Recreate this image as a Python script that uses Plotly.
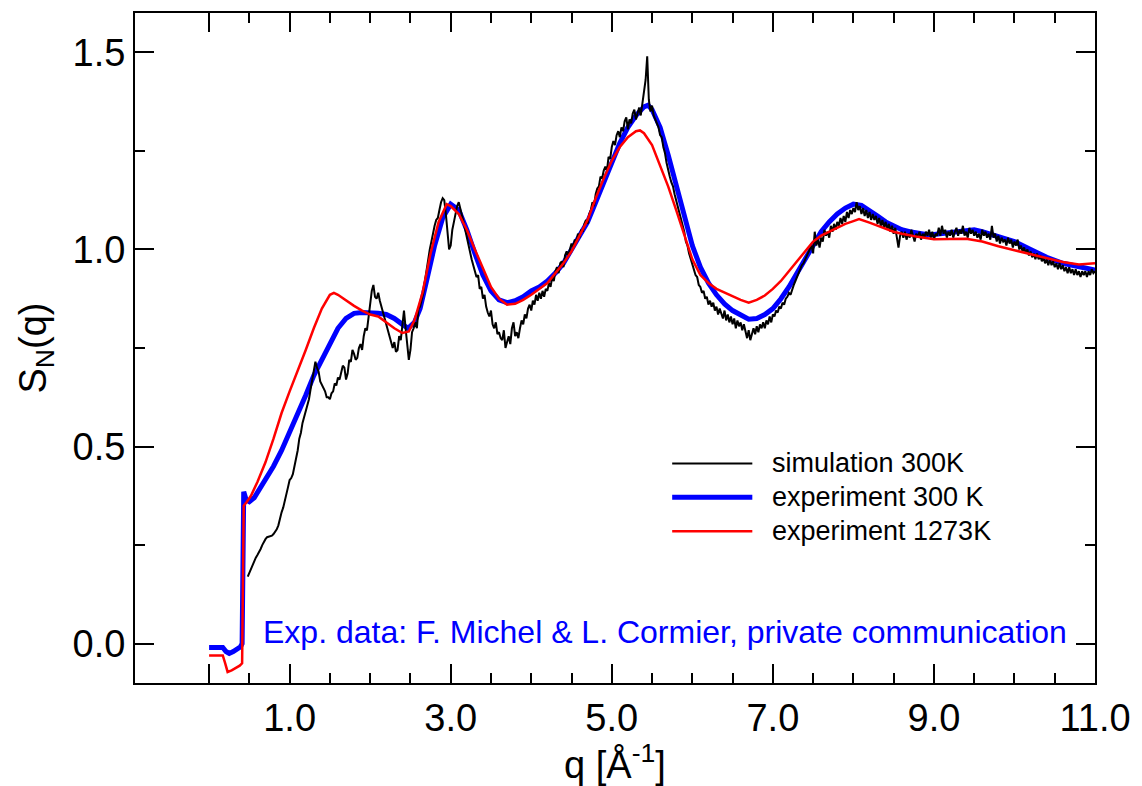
import numpy as np
import plotly.graph_objects as go

# ---- simulation 300K (uniform q grid, step 0.02 from 0.48 to 11.00) ----
q_sim_start, q_sim_step = 0.48, 0.02
s_sim = [
    0.17, 0.18, 0.19, 0.20, 0.21, 0.218, 0.225, 0.232, 0.24, 0.25,            # 0.48
    0.26, 0.265, 0.27, 0.271, 0.272, 0.274, 0.278, 0.283, 0.29, 0.30,         # 0.68
    0.32, 0.333, 0.345, 0.36, 0.38, 0.397, 0.415, 0.42, 0.43, 0.45,           # 0.88
    0.47, 0.49, 0.52, 0.535, 0.56, 0.575, 0.59, 0.605, 0.62, 0.645,           # 1.08
    0.67, 0.69, 0.715, 0.70, 0.69, 0.665, 0.655, 0.645, 0.64, 0.625,          # 1.28
    0.625, 0.62, 0.635, 0.64, 0.66, 0.655, 0.675, 0.67, 0.69, 0.705,          # 1.48
    0.70, 0.67, 0.685, 0.72, 0.715, 0.745, 0.735, 0.72, 0.725, 0.75,          # 1.68
    0.76, 0.745, 0.78, 0.80, 0.795, 0.83, 0.86, 0.895, 0.91, 0.88,            # 1.88
    0.875, 0.89, 0.87, 0.855, 0.84, 0.83, 0.815, 0.80, 0.785, 0.77,           # 2.08
    0.75, 0.765, 0.74, 0.745, 0.78, 0.77, 0.81, 0.845, 0.80, 0.755,           # 2.28
    0.72, 0.745, 0.79, 0.80, 0.815, 0.80, 0.85, 0.855, 0.87, 0.89,            # 2.48
    0.92, 0.95, 0.98, 1.00, 1.02, 1.045, 1.06, 1.075, 1.08, 1.10,             # 2.68
    1.12, 1.13, 1.125, 1.09, 1.04, 1.00, 1.01, 1.05, 1.07, 1.095,             # 2.88
    1.11, 1.12, 1.105, 1.085, 1.07, 1.05, 1.03, 1.01, 0.99, 0.975,            # 3.08
    0.96, 0.945, 0.93, 0.935, 0.90, 0.905, 0.875, 0.885, 0.855, 0.84,         # 3.28
    0.83, 0.845, 0.81, 0.80, 0.815, 0.785, 0.79, 0.775, 0.77, 0.795,          # 3.48
    0.75, 0.765, 0.78, 0.76, 0.80, 0.815, 0.78, 0.79, 0.775, 0.80,            # 3.68
    0.82, 0.81, 0.835, 0.825, 0.85, 0.86, 0.845, 0.87, 0.86, 0.885,           # 3.88
    0.87, 0.89, 0.875, 0.895, 0.88, 0.90, 0.895, 0.915, 0.905, 0.93,          # 4.08
    0.92, 0.945, 0.955, 0.94, 0.965, 0.97, 0.955, 0.985, 0.995, 0.985,        # 4.28
    1.00, 1.015, 1.005, 1.025, 1.02, 1.04, 1.03, 1.05, 1.045, 1.065,          # 4.48
    1.075, 1.065, 1.09, 1.10, 1.12, 1.11, 1.14, 1.155, 1.16, 1.185,           # 4.68
    1.18, 1.20, 1.21, 1.20, 1.235, 1.23, 1.26, 1.275, 1.265, 1.29,            # 4.88
    1.30, 1.285, 1.31, 1.30, 1.325, 1.335, 1.305, 1.33, 1.32, 1.345,          # 5.08
    1.355, 1.33, 1.345, 1.36, 1.34, 1.37, 1.40, 1.43, 1.49, 1.38,             # 5.28
    1.35, 1.365, 1.34, 1.33, 1.315, 1.31, 1.29, 1.285, 1.26, 1.245,           # 5.48
    1.22, 1.20, 1.185, 1.17, 1.16, 1.14, 1.125, 1.11, 1.095, 1.075,           # 5.68
    1.06, 1.045, 1.02, 1.01, 0.99, 0.975, 0.96, 0.95, 0.935, 0.93,            # 5.88
    0.91, 0.905, 0.89, 0.895, 0.875, 0.88, 0.86, 0.87, 0.855, 0.865,          # 6.08
    0.845, 0.855, 0.835, 0.85, 0.84, 0.825, 0.845, 0.82, 0.835, 0.815,        # 6.28
    0.83, 0.81, 0.825, 0.80, 0.82, 0.805, 0.815, 0.795, 0.81, 0.79,           # 6.48
    0.775, 0.795, 0.77, 0.785, 0.80, 0.785, 0.805, 0.79, 0.81, 0.80,          # 6.68
    0.815, 0.80, 0.82, 0.81, 0.83, 0.815, 0.835, 0.83, 0.845, 0.84,           # 6.88
    0.855, 0.85, 0.865, 0.86, 0.875, 0.88, 0.89, 0.885, 0.90, 0.91,           # 7.08
    0.92, 0.93, 0.935, 0.95, 0.96, 0.965, 0.975, 0.985, 0.995, 1.00,          # 7.28
    1.01, 0.99, 1.045, 1.01, 1.025, 1.005, 1.03, 1.02, 1.05, 1.035,           # 7.48
    1.045, 1.03, 1.06, 1.045, 1.065, 1.05, 1.07, 1.06, 1.08, 1.065,           # 7.68
    1.085, 1.07, 1.095, 1.08, 1.10, 1.09, 1.105, 1.095, 1.12, 1.10,           # 7.88
    1.11, 1.09, 1.105, 1.085, 1.10, 1.08, 1.095, 1.075, 1.09, 1.075,          # 8.08
    1.085, 1.065, 1.08, 1.06, 1.075, 1.055, 1.07, 1.05, 1.065, 1.045,         # 8.28
    1.06, 1.04, 1.055, 1.03, 1.005, 1.035, 1.045, 1.03, 1.045, 1.025,         # 8.48
    1.04, 1.03, 1.05, 1.035, 1.02, 1.04, 1.03, 1.045, 1.025, 1.04,            # 8.68
    1.03, 1.045, 1.035, 1.05, 1.03, 1.045, 1.025, 1.04, 1.035, 1.055,         # 8.88
    1.035, 1.06, 1.04, 1.05, 1.03, 1.045, 1.035, 1.05, 1.03, 1.045,           # 9.08
    1.055, 1.035, 1.05, 1.04, 1.06, 1.035, 1.045, 1.03, 1.055, 1.04,          # 9.28
    1.05, 1.035, 1.045, 1.03, 1.04, 1.025, 1.05, 1.035, 1.045, 1.03,          # 9.48
    1.04, 1.025, 1.06, 1.03, 1.04, 1.02, 1.035, 1.015, 1.03, 1.02,            # 9.68
    1.025, 1.01, 1.03, 1.015, 1.025, 1.005, 1.02, 1.01, 1.025, 1.00,          # 9.88
    1.01, 0.995, 1.005, 0.99, 1.00, 0.985, 0.995, 0.98, 0.99, 0.975,          # 10.08
    0.99, 0.975, 0.985, 0.97, 0.98, 0.965, 0.975, 0.96, 0.975, 0.96,          # 10.28
    0.97, 0.955, 0.965, 0.95, 0.965, 0.95, 0.96, 0.945, 0.955, 0.94,          # 10.48
    0.955, 0.94, 0.95, 0.935, 0.95, 0.935, 0.945, 0.93, 0.945, 0.935,         # 10.68
    0.945, 0.93, 0.945, 0.935, 0.95, 0.94, 0.945,                             # 10.88
]
q_sim = np.round(q_sim_start + q_sim_step * np.arange(len(s_sim)), 3)

# ---- experiment 300 K ----
q_exp300 = [0.0, 0.17, 0.21, 0.25, 0.30, 0.35, 0.39, 0.41, 0.43, 0.46, 0.50, 0.56, 0.62,
            0.70, 0.80, 0.90, 1.00, 1.10, 1.20, 1.30, 1.40, 1.50, 1.60, 1.70, 1.80, 1.90,
            2.00, 2.10, 2.20, 2.30, 2.40, 2.47, 2.55, 2.62, 2.70, 2.80, 2.90, 3.00, 3.10,
            3.20, 3.30, 3.40, 3.50, 3.60, 3.70, 3.80, 3.90, 4.00, 4.10, 4.20, 4.30, 4.40,
            4.50, 4.60, 4.70, 4.80, 4.90, 5.00, 5.10, 5.20, 5.30, 5.40, 5.45, 5.50, 5.60,
            5.70, 5.80, 5.90, 6.00, 6.10, 6.20, 6.30, 6.40, 6.50, 6.60, 6.70, 6.80, 6.90,
            7.00, 7.10, 7.20, 7.30, 7.40, 7.50, 7.60, 7.70, 7.80, 7.90, 8.00, 8.10, 8.20,
            8.30, 8.40, 8.50, 8.60, 8.70, 8.80, 8.90, 9.00, 9.20, 9.40, 9.50, 9.60, 9.80,
            10.00, 10.20, 10.40, 10.60, 10.80, 11.00]
s_exp300 = [-0.01, -0.01, -0.02, -0.025, -0.02, -0.015, -0.008, 0.0, 0.385, 0.365, 0.36,
            0.37, 0.39, 0.415, 0.45, 0.49, 0.535, 0.58, 0.63, 0.68, 0.72, 0.765, 0.80,
            0.825, 0.838, 0.84, 0.84, 0.838, 0.835, 0.825, 0.81, 0.80, 0.815, 0.85, 0.92,
            1.01, 1.08, 1.115, 1.10, 1.05, 0.99, 0.935, 0.895, 0.872, 0.865, 0.87, 0.88,
            0.895, 0.905, 0.92, 0.94, 0.965, 1.00, 1.035, 1.07, 1.12, 1.17, 1.22, 1.27,
            1.31, 1.34, 1.362, 1.366, 1.355, 1.31, 1.24, 1.16, 1.08, 1.01, 0.955, 0.915,
            0.885, 0.862, 0.845, 0.833, 0.823, 0.825, 0.835, 0.85, 0.875, 0.905, 0.94,
            0.98, 1.015, 1.045, 1.07, 1.09, 1.105, 1.115, 1.112, 1.10, 1.085, 1.07, 1.06,
            1.05, 1.045, 1.04, 1.038, 1.038, 1.042, 1.048, 1.05, 1.045, 1.032, 1.02, 1.00,
            0.98, 0.965, 0.955, 0.948]

# ---- experiment 1273K ----
q_exp1273 = [0.0, 0.17, 0.20, 0.23, 0.28, 0.33, 0.38, 0.41, 0.43, 0.47, 0.52, 0.60, 0.70,
             0.80, 0.90, 1.00, 1.10, 1.20, 1.30, 1.40, 1.50, 1.55, 1.60, 1.70, 1.80, 1.90,
             2.00, 2.10, 2.20, 2.30, 2.40, 2.48, 2.55, 2.65, 2.75, 2.85, 2.95, 3.00, 3.10,
             3.20, 3.30, 3.40, 3.50, 3.60, 3.70, 3.80, 3.90, 4.00, 4.10, 4.20, 4.30, 4.40,
             4.50, 4.60, 4.70, 4.80, 4.90, 5.00, 5.10, 5.20, 5.30, 5.35, 5.40, 5.50, 5.60,
             5.70, 5.80, 5.90, 6.00, 6.10, 6.20, 6.30, 6.40, 6.50, 6.60, 6.70, 6.80, 6.90,
             7.00, 7.10, 7.20, 7.30, 7.40, 7.50, 7.60, 7.70, 7.80, 7.90, 8.00, 8.07, 8.20,
             8.30, 8.40, 8.50, 8.60, 8.80, 9.00, 9.20, 9.40, 9.60, 9.80, 10.00, 10.20,
             10.40, 10.60, 10.80, 11.00]
s_exp1273 = [-0.03, -0.03, -0.05, -0.072, -0.068, -0.062, -0.056, -0.05, 0.35, 0.36,
             0.375, 0.41, 0.46, 0.52, 0.585, 0.64, 0.69, 0.745, 0.80, 0.85, 0.885, 0.89,
             0.885, 0.87, 0.857, 0.845, 0.835, 0.83, 0.815, 0.80, 0.788, 0.792, 0.82,
             0.89, 0.99, 1.07, 1.115, 1.11, 1.09, 1.05, 1.00, 0.95, 0.905, 0.875, 0.86,
             0.862, 0.872, 0.885, 0.90, 0.915, 0.94, 0.965, 0.995, 1.035, 1.075, 1.13,
             1.18, 1.225, 1.26, 1.285, 1.30, 1.302, 1.295, 1.265, 1.215, 1.16, 1.10, 1.035,
             0.975, 0.935, 0.915, 0.90, 0.89, 0.88, 0.872, 0.865, 0.872, 0.883, 0.90, 0.92,
             0.945, 0.97, 0.995, 1.02, 1.035, 1.045, 1.055, 1.065, 1.072, 1.077, 1.068,
             1.06, 1.053, 1.045, 1.04, 1.032, 1.026, 1.026, 1.027, 1.02, 1.008, 0.998,
             0.988, 0.978, 0.968, 0.962, 0.965]

# ---- axis ticks ----
x_major = [0, 1, 3, 5, 7, 9, 11]
x_major_text = ["", "1.0", "3.0", "5.0", "7.0", "9.0", "11.0"]
x_minor = [0.5, 1.5, 2.0, 2.5, 3.5, 4.0, 4.5, 5.5, 6.0, 6.5, 7.5, 8.0, 8.5, 9.5, 10.0, 10.5]
y_major = [0.0, 0.5, 1.0, 1.5]
y_major_text = ["0.0", "0.5", "1.0", "1.5"]
y_minor = [0.25, 0.75, 1.25]

series_names = ["simulation 300K", "experiment 300 K", "experiment 1273K"]
series_colors = ["#000000", "#0000ff", "#ff0000"]
series_widths = [2, 5, 2.5]
series_q = [q_sim, q_exp300, q_exp1273]
series_s = [s_sim, s_exp300, s_exp1273]
draw_order = [1, 0, 2]   # thick 300 K curve underneath, 1273K on top

FONT = "Liberation Sans, Arial, Helvetica, sans-serif"

fig = go.Figure()
for i in draw_order:
    fig.add_trace(go.Scatter(x=series_q[i], y=series_s[i], mode="lines",
                             name=series_names[i],
                             line=dict(color=series_colors[i], width=series_widths[i]),
                             showlegend=False))

# hand-placed legend: sample line + label per series
leg_x0, leg_x1, leg_tx = 5.75, 6.745, 6.97
leg_y = [0.457, 0.371, 0.285]
for name, col, w, yy in zip(series_names, series_colors, series_widths, leg_y):
    fig.add_shape(type="line", xref="x", yref="y", x0=leg_x0, x1=leg_x1, y0=yy, y1=yy,
                  line=dict(color=col, width=w))
    fig.add_annotation(x=leg_tx, y=yy, xref="x", yref="y", text=name, showarrow=False,
                       xanchor="left", yanchor="middle",
                       font=dict(family=FONT, size=27, color="#000000"))

fig.add_annotation(x=0.64, y=0.03, xref="x", yref="y",
                   text="Exp. data: F. Michel & L. Cormier, private communication",
                   showarrow=False, xanchor="left", yanchor="middle",
                   font=dict(family=FONT, size=32, color="#0000ff"))

axis_common = dict(showline=True, linecolor="#000000", linewidth=2, mirror="ticks",
                   ticks="inside", ticklen=19, tickwidth=2, tickcolor="#000000",
                   showgrid=False, zeroline=False,
                   tickfont=dict(family=FONT, size=38, color="#000000"))

fig.update_xaxes(range=[-0.92, 11.0], tickmode="array", tickvals=x_major,
                 ticktext=x_major_text,
                 minor=dict(tickmode="array", tickvals=x_minor, ticks="inside",
                            ticklen=10, tickwidth=2, tickcolor="#000000"),
                 title=dict(text="q [Å<sup>-1</sup>]", standoff=4,
                            font=dict(family=FONT, size=38, color="#000000")),
                 **axis_common)
fig.update_yaxes(range=[-0.1, 1.6], tickmode="array", tickvals=y_major,
                 ticktext=y_major_text,
                 minor=dict(tickmode="array", tickvals=y_minor, ticks="inside",
                            ticklen=10, tickwidth=2, tickcolor="#000000"),
                 title=dict(text="S<sub>N</sub>(q)", standoff=14,
                            font=dict(family=FONT, size=38, color="#000000")),
                 **axis_common)

fig.update_layout(width=1142, height=786, margin=dict(l=135, r=40, t=11, b=103),
                  paper_bgcolor="#ffffff", plot_bgcolor="#ffffff",
                  font=dict(family=FONT))

fig.write_html("out.html")
